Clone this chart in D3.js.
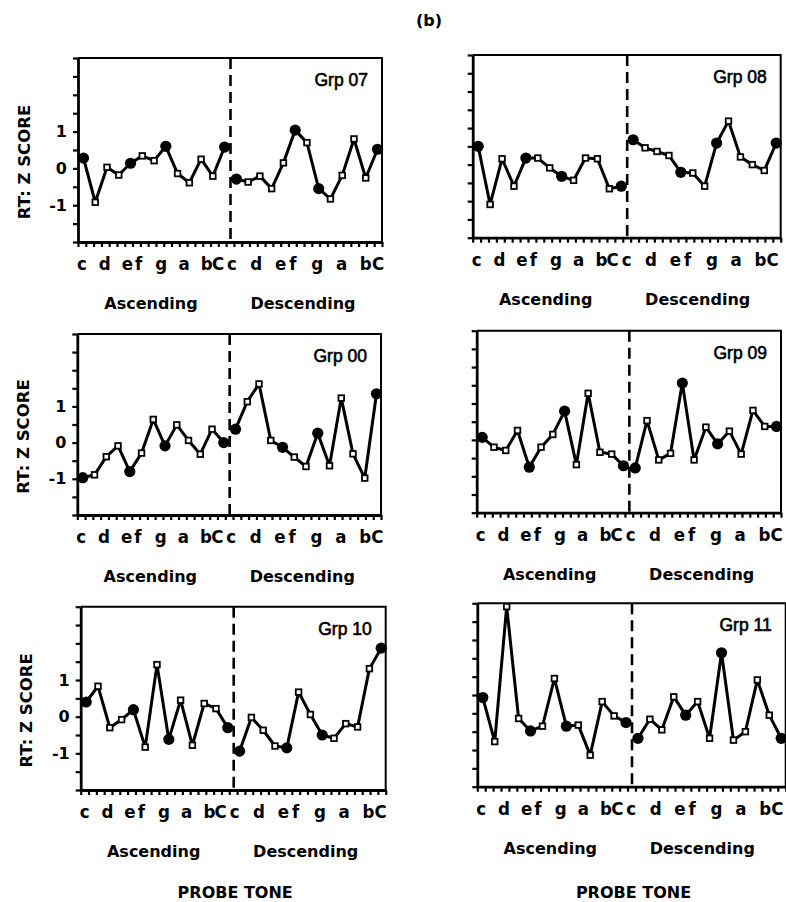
<!DOCTYPE html>
<html><head><meta charset="utf-8">
<script src="https://cdn.jsdelivr.net/npm/d3@7"></script>
<style>body{margin:0;background:#fff} svg{display:block}</style>
</head><body><svg id="chart" width="786" height="902"></svg>
<script>
// ---------- data ----------
const groupNames = ["Grp 07", "Grp 08", "Grp 00", "Grp 09", "Grp 10", "Grp 11"];
const toneNames = ["c", "d", "e", "f", "g", "a", "b", "C"];
const toneSteps = [0, 2, 4, 5, 7, 9, 11, 12];
const halfNames = ["Ascending", "Descending"];
const yTickLabels = [-1, 0, 1];
const yMinorTicks = [-2, -1.5, -1, -0.5, 0, 0.5, 1, 1.5, 2, 2.5, 3];

const grp07Asc  = [0.28, -0.92, 0.03, -0.18, 0.14, 0.34, 0.21, 0.60, -0.14, -0.39, 0.25, -0.21, 0.58];
const grp07Desc = [-0.29, -0.37, -0.21, -0.55, 0.15, 1.04, 0.70, -0.55, -0.83, -0.19, 0.80, -0.26, 0.52];
const grp08Asc  = [0.50, -1.09, 0.16, -0.59, 0.18, 0.18, -0.09, -0.32, -0.43, 0.18, 0.16, -0.66, -0.59];
const grp08Desc = [0.68, 0.46, 0.36, 0.25, -0.21, -0.23, -0.59, 0.59, 1.19, 0.21, 0.00, -0.16, 0.59];
const grp00Asc  = [-0.97, -0.89, -0.39, -0.09, -0.80, -0.29, 0.64, -0.09, 0.49, 0.06, -0.32, 0.37, 0.00];
const grp00Desc = [0.37, 1.13, 1.62, 0.06, -0.13, -0.40, -0.66, 0.26, -0.64, 1.23, -0.31, -0.98, 1.35];
const grp09Asc  = [0.07, -0.20, -0.29, 0.26, -0.75, -0.20, 0.15, 0.79, -0.68, 1.28, -0.34, -0.39, -0.71];
const grp09Desc = [-0.77, 0.53, -0.55, -0.37, 1.56, -0.55, 0.35, -0.11, 0.24, -0.39, 0.81, 0.37, 0.37];
const grp10Asc  = [0.40, 0.83, -0.30, -0.08, 0.19, -0.83, 1.42, -0.62, 0.45, -0.78, 0.36, 0.22, -0.30];
const grp10Desc = [-0.94, -0.02, -0.37, -0.80, -0.85, 0.67, 0.06, -0.50, -0.59, -0.19, -0.28, 1.31, 1.87];
const grp11Asc  = [0.43, -0.77, 2.91, -0.14, -0.48, -0.35, 0.95, -0.35, -0.32, -1.14, 0.32, -0.07, -0.25];
const grp11Desc = [-0.68, -0.16, -0.45, 0.45, -0.05, 0.32, -0.68, 1.65, -0.73, -0.50, 0.91, -0.05, -0.68];

// indices (0..12) of probe tones drawn as large filled circles
const bigStandard = [0, 4, 7, 12];
const bigGrp07Desc = [0, 5, 7, 12];

const groupAsc  = [grp07Asc, grp08Asc, grp00Asc, grp09Asc, grp10Asc, grp11Asc];
const groupDesc = [grp07Desc, grp08Desc, grp00Desc, grp09Desc, grp10Desc, grp11Desc];
const groupBigAsc  = [bigStandard, bigStandard, bigStandard, bigStandard, bigStandard, bigStandard];
const groupBigDesc = [bigGrp07Desc, bigStandard, bigStandard, bigStandard, bigStandard, bigStandard];

// ---------- layout ----------
const frames = [ // left, top, width, height
  [78, 58, 304, 184],
  [472.7, 55, 308, 182.7],
  [77.3, 334, 303.7, 181],
  [476.7, 330.7, 304.3, 182],
  [80.7, 606.7, 305, 183.3],
  [477.3, 603.3, 308.4, 183.4]
];

const svg = d3.select("#chart");
const boldFont = "'DejaVu Sans', sans-serif";
const tickFont = "'DejaVu Sans Condensed', 'DejaVu Sans', sans-serif";

svg.append("text")
  .attr("x", 429).attr("y", 26)
  .attr("text-anchor", "middle")
  .style("font-family", boldFont).style("font-weight", "bold").style("font-size", "16px")
  .text("(b)");

groupNames.forEach((name, gi) => {
  const [L, T, W, H] = frames[gi];
  const leftCol = gi % 2 === 0;
  const g = svg.append("g").attr("transform", `translate(${L},${T})`);

  const x = d3.scalePoint().domain(d3.range(26)).range([5.5, W - 4.5]);
  const y = d3.scaleLinear().domain([-2, 3]).range([H, 0]);
  const xTick = d3.scaleLinear().domain([0, 39]).range([0, W]);
  const labAsc = d3.scaleLinear().domain([0, 12]).range([4, 140]);
  const labDesc = d3.scaleLinear().domain([0, 12]).range([154, 300]);

  // frame top & right
  g.append("path")
    .attr("d", `M0,0H${W}V${H}`)
    .attr("fill", "none").attr("stroke", "#000").attr("stroke-width", 2);

  // bottom axis with fine ticks
  const xa = g.append("g").attr("transform", `translate(0,${H})`)
    .call(d3.axisBottom(xTick).tickValues(d3.range(40)).tickSize(5).tickSizeOuter(0).tickFormat(""));
  xa.select(".domain").attr("stroke-width", 2.8);
  xa.selectAll(".tick line").attr("stroke-width", 2.2);

  // left axis
  const ya = g.append("g")
    .call(d3.axisLeft(y).tickValues(yMinorTicks).tickSize(5).tickSizeOuter(0).tickPadding(6)
      .tickFormat(d => (leftCol && yTickLabels.includes(d)) ? (d < 0 ? "-" + Math.abs(d) : String(d)) : ""));
  ya.select(".domain").attr("stroke-width", 2.8);
  ya.selectAll(".tick line").attr("stroke-width", 2.2);
  ya.selectAll(".tick text")
    .style("font-family", boldFont).style("font-weight", "bold").style("font-size", "16px");

  // dashed divider
  const xd = (x(12) + x(13)) / 2;
  g.append("line")
    .attr("x1", xd).attr("x2", xd).attr("y1", 0).attr("y2", H)
    .attr("stroke", "#000").attr("stroke-width", 2.6).attr("stroke-dasharray", "11,6");

  // group label
  g.append("text")
    .attr("x", W - 14).attr("y", 28)
    .attr("text-anchor", "end")
    .style("font-family", "'Liberation Sans', Arial, sans-serif").style("font-size", "17.5px")
    .attr("stroke", "#000").attr("stroke-width", 0.6)
    .text(name);

  // series
  const halves = [
    { vals: groupAsc[gi], big: groupBigAsc[gi], off: 0 },
    { vals: groupDesc[gi], big: groupBigDesc[gi], off: 13 }
  ];
  const line = d3.line().x(d => x(d.i)).y(d => y(d.v));
  halves.forEach(h => {
    const pts = h.vals.map((v, k) => ({ i: k + h.off, v, big: h.big.includes(k) }));
    g.append("path").datum(pts).attr("d", line)
      .attr("fill", "none").attr("stroke", "#000").attr("stroke-width", 3)
      .attr("stroke-linejoin", "round");
    g.selectAll(null).data(pts.filter(p => !p.big)).enter().append("rect")
      .attr("x", p => x(p.i) - 2.8).attr("y", p => y(p.v) - 2.8)
      .attr("width", 5.6).attr("height", 5.6)
      .attr("fill", "#fff").attr("stroke", "#000").attr("stroke-width", 1.8);
    g.selectAll(null).data(pts.filter(p => p.big)).enter().append("circle")
      .attr("cx", p => x(p.i)).attr("cy", p => y(p.v)).attr("r", 5.6)
      .attr("fill", "#000");
  });

  // tone labels
  [labAsc, labDesc].forEach(sc => {
    g.selectAll(null).data(toneNames).enter().append("text")
      .attr("x", (t, j) => sc(toneSteps[j])).attr("y", H + 28)
      .attr("text-anchor", "middle")
      .style("font-family", tickFont).style("font-weight", "bold").style("font-size", "18.5px")
      .text(t => t);
  });

  // Ascending / Descending
  [73, 225].forEach((cx, j) => {
    g.append("text").attr("x", cx).attr("y", H + 67)
      .attr("text-anchor", "middle")
      .style("font-family", boldFont).style("font-weight", "bold").style("font-size", "16px")
      .text(halfNames[j]);
  });

  // y title
  if (leftCol) {
    g.append("text")
      .attr("transform", `translate(${-54},${H / 2 + 12}) rotate(-90)`)
      .attr("text-anchor", "middle").attr("dominant-baseline", "central")
      .style("font-family", boldFont).style("font-weight", "bold").style("font-size", "16.5px")
      .text("RT: Z SCORE");
  }

  // x title on bottom row
  if (gi >= 4) {
    g.append("text").attr("x", W / 2 + 2).attr("y", 898 - T)
      .attr("text-anchor", "middle")
      .style("font-family", boldFont).style("font-weight", "bold").style("font-size", "16px")
      .text("PROBE TONE");
  }
});
</script></body></html>
